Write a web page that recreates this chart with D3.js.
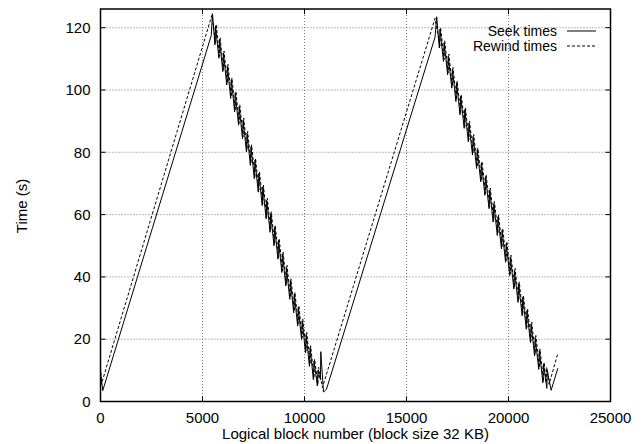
<!DOCTYPE html>
<html lang="en">
<head>
  <meta charset="UTF-8">
  <title>Seek and rewind times</title>
  <script src="https://d3js.org/d3.v7.min.js"></script>
  <style>
    body { margin: 0; background: #fff; }
    text { font-family: "Liberation Sans", Arial, sans-serif; font-size: 15px; fill: #000; }
    .legend text { font-size: 14px; }
    .grid line { stroke: #777; stroke-width: 1; stroke-dasharray: 1,2; }
    .frame { fill: none; stroke: #000; stroke-width: 1.5; }
    .tick-mark { stroke: #000; stroke-width: 1; }
    .seek { fill: none; stroke: #000; stroke-width: 1; }
    .rewind { fill: none; stroke: #000; stroke-width: 1; stroke-dasharray: 3,2; }
  </style>
</head>
<body>
  <div id="chart"></div>
  <script>
    // tick values
    const xTicks = [0, 5000, 10000, 15000, 20000, 25000];
    const yTicks = [0, 20, 40, 60, 80, 100, 120];

    // [logical block, time in s]
    const seekTimes = [
      [0, 9.5], [110, 3.5], [5430, 117.5], [5490, 124.5],
      [5610, 114.5], [5640, 120.5], [5803, 110.2], [5833, 116.2],
      [5996, 105.9], [6026, 111.9], [6189, 101.6], [6219, 107.6],
      [6382, 97.3], [6412, 103.3], [6575, 93.0], [6605, 99.0],
      [6768, 88.7], [6798, 94.7], [6961, 84.4], [6991, 90.4],
      [7154, 80.1], [7184, 86.1], [7347, 75.8], [7377, 81.8],
      [7540, 71.5], [7570, 77.5], [7733, 67.2], [7763, 73.2],
      [7926, 62.9], [7956, 68.9], [8119, 58.6], [8149, 64.6],
      [8312, 54.3], [8342, 60.3], [8505, 50.0], [8535, 56.0],
      [8698, 45.7], [8728, 51.7], [8891, 41.4], [8921, 47.4],
      [9084, 37.1], [9114, 43.1], [9277, 32.8], [9307, 38.8],
      [9470, 28.5], [9500, 34.5], [9663, 24.2], [9693, 30.2],
      [9856, 19.9], [9886, 25.9], [10049, 15.6], [10079, 21.6],
      [10242, 11.3], [10272, 17.3], [10435, 7.0], [10465, 13.0],
      [10630, 5.0], [10660, 10.0], [10780, 7.0], [10800, 16.0],
      [10930, 3.0], [11080, 4.0], [16400, 117.0], [16480, 123.5],
      [16610, 113.5], [16640, 119.5], [16813, 109.2], [16843, 115.2],
      [17016, 104.9], [17046, 110.9], [17219, 100.6], [17249, 106.6],
      [17422, 96.3], [17452, 102.3], [17625, 92.0], [17655, 98.0],
      [17828, 87.7], [17858, 93.7], [18031, 83.4], [18061, 89.4],
      [18234, 79.1], [18264, 85.1], [18437, 74.8], [18467, 80.8],
      [18640, 70.5], [18670, 76.5], [18843, 66.2], [18873, 72.2],
      [19046, 61.9], [19076, 67.9], [19249, 57.6], [19279, 63.6],
      [19452, 53.3], [19482, 59.3], [19655, 49.0], [19685, 55.0],
      [19858, 44.7], [19888, 50.7], [20061, 40.4], [20091, 46.4],
      [20264, 36.1], [20294, 42.1], [20467, 31.8], [20497, 37.8],
      [20670, 27.5], [20700, 33.5], [20873, 23.2], [20903, 29.2],
      [21076, 18.9], [21106, 24.9], [21279, 14.6], [21309, 20.6],
      [21482, 10.3], [21512, 16.3], [21685, 6.0], [21715, 12.0],
      [21880, 4.2], [21900, 10.0], [22090, 3.6], [22420, 10.7]
    ];

    const rewindTimes = [
      [0, 11.0], [40, 5.5], [5460, 124.0],
      [5640, 115.1], [5670, 121.1], [5833, 110.8], [5863, 116.8],
      [6026, 106.5], [6056, 112.5], [6219, 102.2], [6249, 108.2],
      [6412, 97.9], [6442, 103.9], [6605, 93.6], [6635, 99.6],
      [6798, 89.3], [6828, 95.3], [6991, 85.0], [7021, 91.0],
      [7184, 80.7], [7214, 86.7], [7377, 76.4], [7407, 82.4],
      [7570, 72.1], [7600, 78.1], [7763, 67.8], [7793, 73.8],
      [7956, 63.5], [7986, 69.5], [8149, 59.2], [8179, 65.2],
      [8342, 54.9], [8372, 60.9], [8535, 50.6], [8565, 56.6],
      [8728, 46.3], [8758, 52.3], [8921, 42.0], [8951, 48.0],
      [9114, 37.7], [9144, 43.7], [9307, 33.4], [9337, 39.4],
      [9500, 29.1], [9530, 35.1], [9693, 24.8], [9723, 30.8],
      [9886, 20.5], [9916, 26.5], [10079, 16.2], [10109, 22.2],
      [10272, 11.9], [10302, 17.9], [10465, 7.6], [10495, 13.6],
      [10660, 5.5], [10690, 11.0], [10880, 4.5], [16400, 123.0],
      [16640, 114.1], [16670, 120.1], [16843, 109.8], [16873, 115.8],
      [17046, 105.5], [17076, 111.5], [17249, 101.2], [17279, 107.2],
      [17452, 96.9], [17482, 102.9], [17655, 92.6], [17685, 98.6],
      [17858, 88.3], [17888, 94.3], [18061, 84.0], [18091, 90.0],
      [18264, 79.7], [18294, 85.7], [18467, 75.4], [18497, 81.4],
      [18670, 71.1], [18700, 77.1], [18873, 66.8], [18903, 72.8],
      [19076, 62.5], [19106, 68.5], [19279, 58.2], [19309, 64.2],
      [19482, 53.9], [19512, 59.9], [19685, 49.6], [19715, 55.6],
      [19888, 45.3], [19918, 51.3], [20091, 41.0], [20121, 47.0],
      [20294, 36.7], [20324, 42.7], [20497, 32.4], [20527, 38.4],
      [20700, 28.1], [20730, 34.1], [20903, 23.8], [20933, 29.8],
      [21106, 19.5], [21136, 25.5], [21309, 15.2], [21339, 21.2],
      [21512, 10.9], [21542, 16.9], [21715, 6.6], [21745, 12.6],
      [21850, 6.0], [21870, 11.0], [21990, 5.5], [22420, 15.5]
    ];

    const W = 642, H = 444;
    const margin = { top: 9, right: 31.5, bottom: 42.5, left: 100.5 };
    const width = W - margin.left - margin.right,
          height = H - margin.top - margin.bottom;

    const svg = d3.select("#chart")
                  .append("svg")
                  .attr("width", W)
                  .attr("height", H);

    const g = svg.append("g")
                 .attr("transform", `translate(${margin.left},${margin.top})`);

    const x = d3.scaleLinear().domain([0, 25000]).range([0, width]);
    const y = d3.scaleLinear().domain([0, 126]).range([height, 0]);

    // grid
    const grid = g.append("g").attr("class", "grid");
    grid.selectAll(".gx")
        .data(xTicks.filter(d => d > 0 && d < 25000))
        .enter().append("line")
        .attr("x1", d => x(d)).attr("x2", d => x(d))
        .attr("y1", 0).attr("y2", height);
    grid.selectAll(".gy")
        .data(yTicks.filter(d => d > 0))
        .enter().append("line")
        .attr("x1", 0).attr("x2", width)
        .attr("y1", d => y(d)).attr("y2", d => y(d));

    // tick marks inside the frame, on all four sides
    const tl = 5;
    const ticks = g.append("g");
    xTicks.forEach(d => {
      ticks.append("line").attr("class", "tick-mark")
           .attr("x1", x(d)).attr("x2", x(d)).attr("y1", height).attr("y2", height - tl);
      ticks.append("line").attr("class", "tick-mark")
           .attr("x1", x(d)).attr("x2", x(d)).attr("y1", 0).attr("y2", tl);
    });
    yTicks.forEach(d => {
      ticks.append("line").attr("class", "tick-mark")
           .attr("x1", 0).attr("x2", tl).attr("y1", y(d)).attr("y2", y(d));
      ticks.append("line").attr("class", "tick-mark")
           .attr("x1", width).attr("x2", width - tl).attr("y1", y(d)).attr("y2", y(d));
    });

    // tick labels
    g.selectAll(".xl")
     .data(xTicks)
     .enter().append("text")
     .attr("x", d => x(d))
     .attr("y", height + 21)
     .attr("text-anchor", "middle")
     .text(d => d);
    g.selectAll(".yl")
     .data(yTicks)
     .enter().append("text")
     .attr("x", -10)
     .attr("y", d => y(d))
     .attr("dy", "0.35em")
     .attr("text-anchor", "end")
     .text(d => d);

    // series
    const line = d3.line().x(d => x(d[0])).y(d => y(d[1]));
    g.append("path").datum(rewindTimes).attr("class", "rewind").attr("d", line);
    g.append("path").datum(seekTimes).attr("class", "seek").attr("d", line);

    // frame
    g.append("rect").attr("class", "frame")
     .attr("x", 0).attr("y", 0).attr("width", width).attr("height", height);

    // axis titles
    svg.append("text")
       .attr("x", margin.left + width / 2)
       .attr("y", 439)
       .attr("text-anchor", "middle")
       .text("Logical block number (block size 32 KB)");
    svg.append("text")
       .attr("transform", "translate(27,206) rotate(-90)")
       .attr("text-anchor", "middle")
       .text("Time (s)");

    // legend
    const legend = [
      { name: "Seek times", cls: "seek", y: 31 },
      { name: "Rewind times", cls: "rewind", y: 46 }
    ];
    const lg = svg.append("g").attr("class", "legend");
    legend.forEach(l => {
      lg.append("text")
        .attr("x", 557).attr("y", l.y).attr("dy", "0.35em")
        .attr("text-anchor", "end")
        .text(l.name);
      lg.append("line").attr("class", l.cls)
        .attr("x1", 567).attr("x2", 596)
        .attr("y1", l.y).attr("y2", l.y);
    });
  </script>
</body>
</html>
